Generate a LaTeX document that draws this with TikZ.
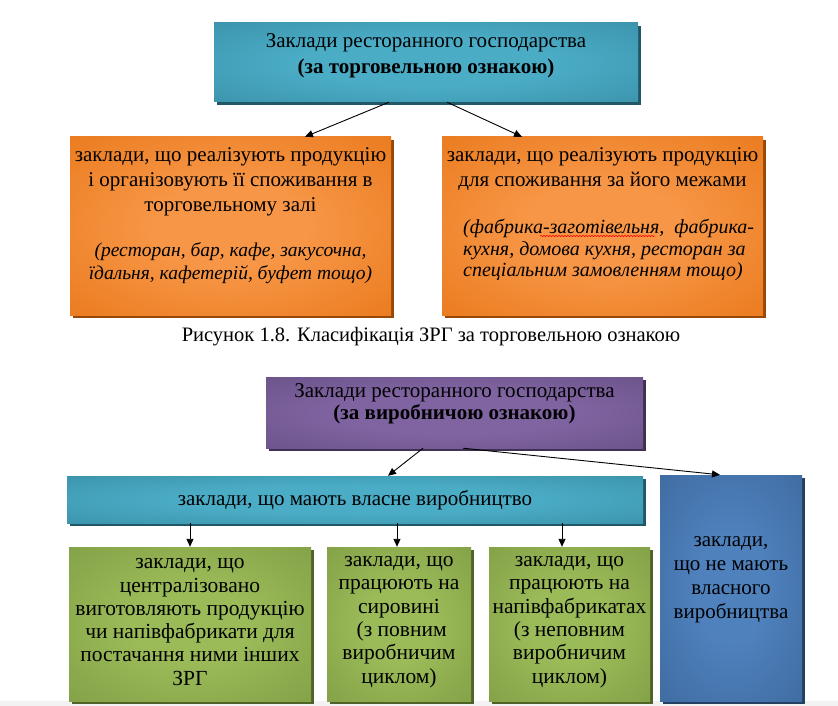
\documentclass[tikz,border=0pt]{standalone}
\usepackage{fontspec}
\setmainfont{Liberation Serif}
\usetikzlibrary{shadows,arrows.meta,calc,decorations.pathmorphing}
\definecolor{tealC}{HTML}{4BACC6}\definecolor{tealE}{HTML}{31849B}\definecolor{tealS}{HTML}{205867}
\definecolor{orgC}{HTML}{F79646}\definecolor{orgE}{HTML}{E36C09}\definecolor{orgS}{HTML}{974806}
\definecolor{purC}{HTML}{8064A2}\definecolor{purE}{HTML}{5F497A}\definecolor{purS}{HTML}{3F3151}
\definecolor{grnC}{HTML}{9BBB59}\definecolor{grnE}{HTML}{76923C}\definecolor{grnS}{HTML}{4F6228}
\definecolor{bluC}{HTML}{4F81BD}\definecolor{bluE}{HTML}{365F91}\definecolor{bluS}{HTML}{244061}
\definecolor{bandgrey}{HTML}{F2F2F2}
\pgfdeclareradialshading{tealsh}{\pgfpoint{0bp}{0bp}}{color(0bp)=(tealC); color(15bp)=(tealC); color(50bp)=(tealE); color(75bp)=(tealE)}
\pgfdeclareradialshading{orgsh}{\pgfpoint{0bp}{0bp}}{color(0bp)=(orgC); color(12bp)=(orgC); color(50bp)=(orgE); color(75bp)=(orgE)}
\pgfdeclareradialshading{pursh}{\pgfpoint{0bp}{0bp}}{color(0bp)=(purC); color(15bp)=(purC); color(50bp)=(purE); color(75bp)=(purE)}
\pgfdeclareradialshading{grnsh}{\pgfpoint{0bp}{0bp}}{color(0bp)=(grnC); color(12bp)=(grnC); color(50bp)=(grnE); color(75bp)=(grnE)}
\pgfdeclareradialshading{blush}{\pgfpoint{0bp}{0bp}}{color(0bp)=(bluC); color(12bp)=(bluC); color(50bp)=(bluE); color(75bp)=(bluE)}
\begin{document}
\begin{tikzpicture}[x=1pt,y=-1pt,
  box/.style={rectangle, inner sep=0pt, draw=none},
  tealbox/.style={box, shading=tealsh, drop shadow={shadow xshift=3pt,shadow yshift=-3pt,fill=tealS,opacity=1}},
  orgbox/.style={box, shading=orgsh, drop shadow={shadow xshift=3pt,shadow yshift=-3pt,fill=orgS,opacity=1}},
  purbox/.style={box, shading=pursh, drop shadow={shadow xshift=3pt,shadow yshift=-3pt,fill=purS,opacity=1}},
  grnbox/.style={box, shading=grnsh, drop shadow={shadow xshift=3pt,shadow yshift=-3pt,fill=grnS,opacity=1}},
  blubox/.style={box, shading=blush, drop shadow={shadow xshift=3pt,shadow yshift=-3pt,fill=bluS,opacity=1}},
  txt/.style={inner sep=0pt, align=center, text=black, font=\fontsize{21}{25}\selectfont},
  gtxt/.style={txt, font=\fontsize{21.5}{23.3}\selectfont},
  arr/.style={-{Triangle[length=8pt,width=7pt]}, line width=0.9pt, black}]
\useasboundingbox (0,0) rectangle (838,706);
\fill[white] (0,0) rectangle (838,706);
\fill[bandgrey] (0,701) rectangle (838,706);

% ---- upper diagram ----
\node[tealbox, minimum width=424pt, minimum height=79pt] (top) at (426,62.5) {};
\node[txt, font=\fontsize{21}{26}\selectfont] (topT) at (426,56) {Заклади ресторанного господарства\\ \textbf{(за торговельною ознакою)}};

\node[orgbox, minimum width=321pt, minimum height=178pt] (oL) at (230.5,226) {};
\node[txt, anchor=north] (oLT) at (230.5,147) {заклади, що реалізують продукцію\\ і організовують її споживання в\\ торговельному залі\\[20pt] {\fontsize{19.5}{23}\selectfont\textit{(ресторан, бар, кафе, закусочна,}}\\[-2pt] {\fontsize{19.5}{23}\selectfont\textit{їдальня, кафетерій, буфет тощо)}}};

\node[orgbox, minimum width=321pt, minimum height=178pt] (oR) at (602.5,226) {};
\node[txt, anchor=north] (oRT) at (602.5,147) {заклади, що реалізують продукцію\\ для споживання за його межами};
\node[txt, align=left, anchor=north west, font=\fontsize{20}{21.5}\selectfont] (oRI) at (463,219) {\textit{(фабрика-заготівельня,\ \ фабрика-}\\ \textit{кухня, домова кухня, ресторан за}\\ \textit{спеціальним замовленням тощо)}};
\draw[red, line width=0.5pt, decorate, decoration={snake, amplitude=0.7pt, segment length=3pt}] (540,236) -- (655,236);

\draw[arr] ([xshift=-37pt]top.south) -- ([xshift=74.5pt]oL.north);
\draw[arr] ([xshift=21pt]top.south) -- ([xshift=-80.5pt]oR.north);

\node[txt, font=\fontsize{20.5}{22}\selectfont] (cap) at (431,337) {Рисунок 1.8. Класифікація ЗРГ за торговельною ознакою};

% ---- lower diagram ----
\node[purbox, minimum width=377pt, minimum height=71pt] (pur) at (454.5,412.5) {};
\node[txt, font=\fontsize{21}{22}\selectfont] (purT) at (454.5,404) {Заклади ресторанного господарства\\ \textbf{(за виробничою ознакою)}};

\node[tealbox, minimum width=576pt, minimum height=47pt] (t2) at (355,499.5) {};
\node[txt, anchor=base] (t2T) at (355,505) {заклади, що мають власне виробництво};

\node[blubox, minimum width=142pt, minimum height=226pt] (blu) at (731,588) {};
\node[txt, font=\fontsize{21}{24}\selectfont] (bluT) at (731,580) {заклади,\\ що не мають\\ власного\\ виробництва};

\node[grnbox, minimum width=242pt, minimum height=154pt] (g1) at (190,624) {};
\node[gtxt] (g1T) at (190,622) {заклади, що\\ централізовано\\ виготовляють продукцію\\ чи напівфабрикати для\\ постачання ними інших\\ ЗРГ};
\node[grnbox, minimum width=144pt, minimum height=154pt] (g2) at (399,624) {};
\node[gtxt] (g2T) at (399,622) {заклади, що\\ працюють на\\ сировині\\ \ (з повним\\ виробничим\\ циклом)};
\node[grnbox, minimum width=161pt, minimum height=154pt] (g3) at (569.5,624) {};
\node[gtxt] (g3T) at (569.5,622) {заклади, що\\ працюють на\\ напівфабрикатах\\ (з неповним\\ виробничим\\ циклом)};

\draw[arr] ([xshift=-31.5pt]pur.south) -- ([xshift=33pt]t2.north);
\draw[arr] ([xshift=8.5pt]pur.south) -- ([xshift=-11pt]blu.north);

\coordinate (g1in) at (g1.north);
\coordinate (g2in) at ([xshift=-2pt]g2.north);
\coordinate (g3in) at ([xshift=-7.5pt]g3.north);
\draw[arr] (g1in |- t2.south) -- (g1in);
\draw[arr] (g2in |- t2.south) -- (g2in);
\draw[arr] (g3in |- t2.south) -- (g3in);
\end{tikzpicture}
\end{document}
